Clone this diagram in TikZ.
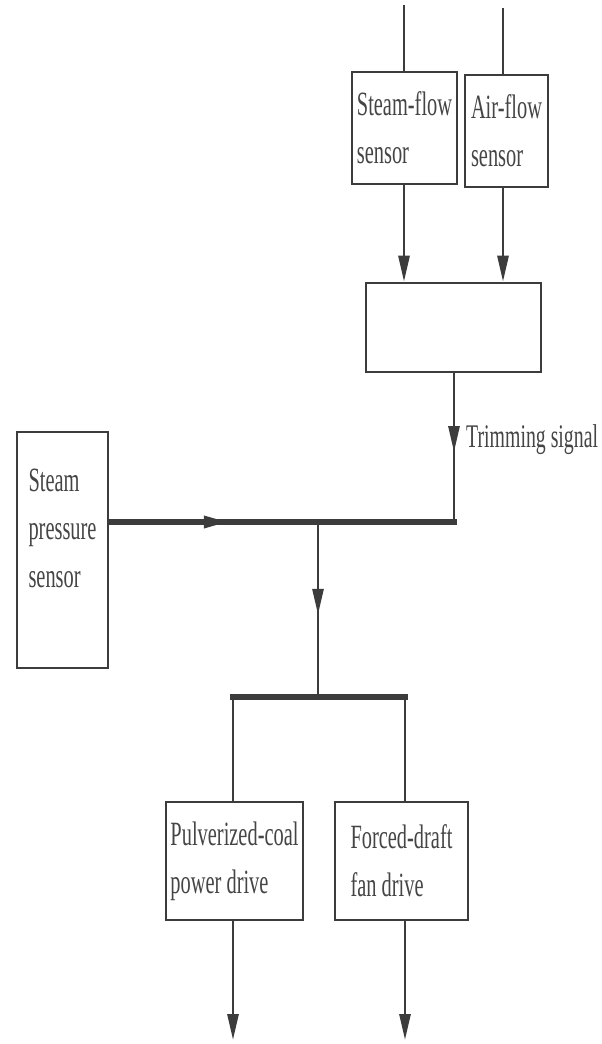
\documentclass[tikz,border=0pt]{standalone}
\usepackage{fontspec}
\setmainfont[FakeStretch=0.6]{Liberation Serif}
\usepackage{xcolor}
\usetikzlibrary{
	arrows.meta,
	calc,
	positioning,
	decorations.markings
}

\definecolor{inkline}{HTML}{3C3C3C}
\definecolor{inktext}{HTML}{454545}

\tikzset{
	blk/.style={draw=inkline, line width=2.6pt, inner sep=0pt, align=left,
		font=\fontsize{34}{48}\selectfont, text=inktext, minimum height=#1},
	sig/.style={draw=inkline, line width=2.8pt},
	bus/.style={draw=inkline, line width=5.5pt},
	tipfwd/.tip={Triangle[length=26pt, width=11pt]},
	midarrow/.style={postaction={decorate, decoration={markings,
		mark=at position #1 with {\arrow[inkline]{tipfwd}}}}}
}

\begin{document}
\begin{tikzpicture}[x=1pt, y=-1pt]
	\useasboundingbox (0,0) rectangle (602,1044);
	% sensors on top
	\node[blk=112pt, minimum width=105pt] (sf) at (404.5,128) {Steam-flow\\sensor};
	\node[blk=112pt, minimum width=83pt] (af) at (506.5,131) {Air-flow\\sensor};
	\node[blk=89pt, minimum width=175pt] (comb) at (453.5,327.5) {};
	\node[blk=236pt, minimum width=91pt, text depth=44pt] (sps) at (62.5,550) {Steam\\pressure\\sensor};
	% drives
	\node[blk=118pt, minimum width=137pt] (pcd) at (234.5,861) {Pulverized-coal\\power drive};
	\node[blk=118pt, minimum width=133pt] (fdd) at (401.5,861) {Forced-draft\\fan drive};

	\coordinate (sfin) at (404,5);
	\coordinate (afin) at (503,8);
	\coordinate (tj) at (454,522);
	\coordinate (j1) at (318,522);
	\coordinate (j2) at (318,697);
	\coordinate (bl) at (233,697);
	\coordinate (br) at (405,697);
	\coordinate (pcdout) at (233,1040);
	\coordinate (fddout) at (405,1040);

	\draw[sig] (sfin) -- (sf.north -| sfin);
	\draw[sig] (afin) -- (af.north -| afin);
	\draw[sig, -{tipfwd}] (sf.south -| sfin) -- (comb.north -| sfin);
	\draw[sig, -{tipfwd}] (af.south -| afin) -- (comb.north -| afin);

	% trimming signal
	\draw[sig, midarrow=0.53] (comb.south -| tj) -- (tj);
	\node[anchor=west, font=\fontsize{33}{47}\selectfont, text=inktext, inner sep=0pt]
		(trim) at (466,440) {Trimming signal};

	% main pressure line
	\draw[bus, line cap=rect, midarrow=0.35] (sps.east |- tj) -- (tj);
	\draw[sig, midarrow=0.53] (j1) -- (j2);
	\draw[bus, line cap=rect] (bl) -- (br);
	\draw[sig] (bl) -- (pcd.north -| bl);
	\draw[sig] (br) -- (fdd.north -| br);
	\draw[sig, -{tipfwd}] (pcd.south -| bl) -- (pcdout);
	\draw[sig, -{tipfwd}] (fdd.south -| br) -- (fddout);
\end{tikzpicture}
\end{document}
